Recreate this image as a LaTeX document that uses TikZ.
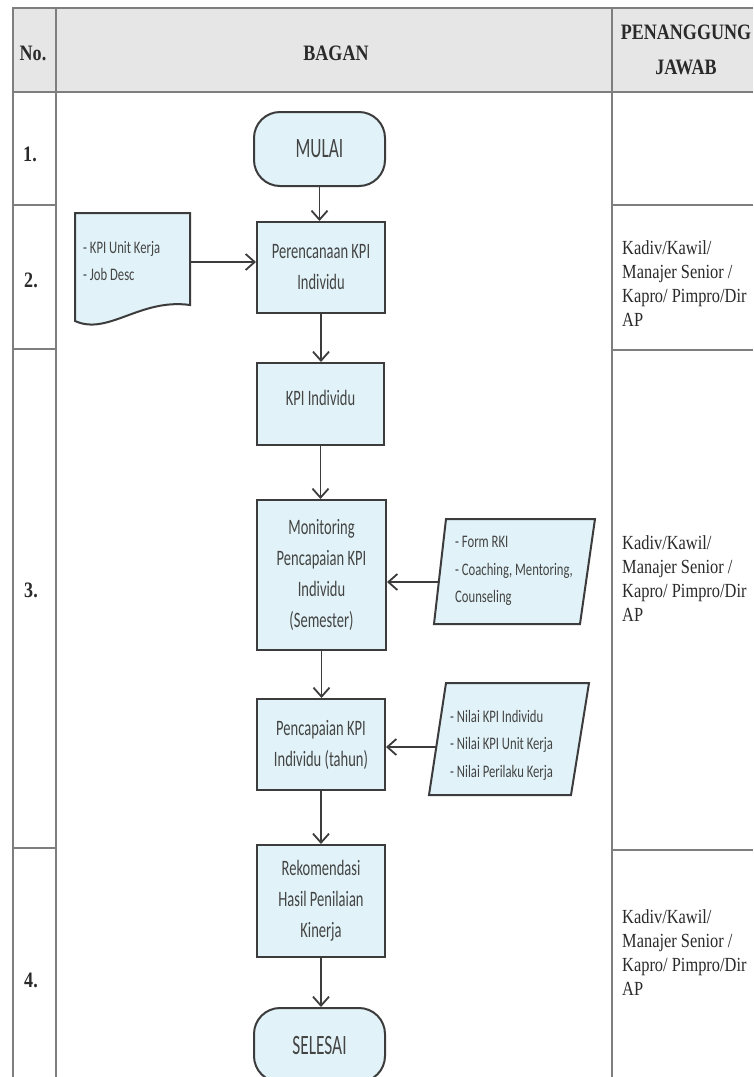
\documentclass[tikz,border=0pt]{standalone}
\usepackage{fontspec}
\setmainfont{Liberation Serif}
\newfontfamily\pjfont{Liberation Serif}[FakeStretch=0.82]
\newfontfamily\cfont{Carlito}[FakeStretch=0.66]
\newfontfamily\lfont{Carlito}[FakeStretch=0.72]
\newfontfamily\tfont{Carlito}[FakeStretch=0.62]
\usetikzlibrary{arrows.meta}
\definecolor{boxfill}{HTML}{E1F3F8}
\definecolor{boxline}{HTML}{3C3C3C}
\definecolor{txt}{HTML}{444444}
\definecolor{tline}{HTML}{7E7E7E}
\definecolor{headfill}{HTML}{E6E6E6}
\definecolor{pjtxt}{HTML}{2A2A2A}
\tikzset{
  proc/.style={draw=boxline, fill=boxfill, line width=2pt, inner sep=0pt, align=center,
    text=txt, font=\cfont\fontsize{22}{31}\selectfont},
  term/.style={proc, rounded corners=26pt, font=\tfont\fontsize{28}{30}\selectfont},
  shapebox/.style={draw=boxline, fill=boxfill, line width=2pt},
  flow/.style={draw=boxline, line width=1.8pt, -{Straight Barb[length=9pt,width=16pt,line width=1.8pt]}},
  grid/.style={draw=tline, line width=1.4pt},
  pj/.style={font=\pjfont\fontsize{20}{24}\selectfont, text=pjtxt, align=left, anchor=north west, inner sep=0pt},
  head/.style={font=\pjfont\bfseries\fontsize{22}{35}\selectfont, text=pjtxt, align=center, inner sep=0pt},
  listtxt/.style={font=\lfont\fontsize{17.6}{27.5}\selectfont, text=txt, align=left, anchor=north west, inner sep=0pt}
}
\begin{document}
\begin{tikzpicture}[x=1pt,y=-1pt]
\useasboundingbox (0,0) rectangle (753,1077);
\clip (0,0) rectangle (753,1077);
\fill[white] (0,0) rectangle (753,1077);
% header
\fill[headfill] (13,8) rectangle (753,92);
\draw[grid] (753,8) -- (13,8) -- (13,1077);
\draw[grid] (56,8) -- (56,1077);
\draw[grid] (612,8) -- (612,1077);
\draw[grid] (13,92) -- (753,92);
\draw[grid] (13,205) -- (56,205);
\draw[grid] (612,205) -- (753,205);
\draw[grid] (13,349) -- (56,349);
\draw[grid] (612,350) -- (753,350);
\draw[grid] (13,848) -- (56,848);
\draw[grid] (612,850) -- (753,850);
\node[head] (hno) at (33,53) {No.};
\node[head] (hbagan) at (336,53) {BAGAN};
\node[head] (hpj) at (686,50) {PENANGGUNG\\JAWAB};
\node[head] (n1) at (30,154) {1.};
\node[head] (n2) at (31,280) {2.};
\node[head] (n3) at (31,590) {3.};
\node[head] (n4) at (31,980) {4.};
% responsibility text
\node[pj] (pj2) at (622,240) {Kadiv/Kawil/\\Manajer Senior /\\Kapro/ Pimpro/Dir\\AP};
\node[pj] (pj3) at (622,535) {Kadiv/Kawil/\\Manajer Senior /\\Kapro/ Pimpro/Dir\\AP};
\node[pj] (pj4) at (622,909) {Kadiv/Kawil/\\Manajer Senior /\\Kapro/ Pimpro/Dir\\AP};
% flow boxes
\node[term, minimum width=131pt, minimum height=74pt] (mulai) at (319.5,149) {MULAI};
\node[proc, minimum width=128pt, minimum height=91pt] (per) at (321,267.5) {Perencanaan KPI\\Individu};
\node[proc, minimum width=127pt, minimum height=82pt] (kpi) at (320.5,404) {\raisebox{12pt}{KPI Individu}};
\node[proc, minimum width=129pt, minimum height=150pt] (mon) at (321.5,575) {Monitoring\\Pencapaian KPI\\Individu\\(Semester)};
\node[proc, minimum width=128pt, minimum height=91pt] (pen) at (321,744.5) {Pencapaian KPI\\Individu (tahun)};
\node[proc, minimum width=128pt, minimum height=112pt] (rek) at (321,901) {Rekomendasi\\Hasil Penilaian\\Kinerja};
\node[term, minimum width=131pt, minimum height=74pt] (sel) at (319.5,1045) {SELESAI};
% document shape
\draw[shapebox] (75,213) -- (190,213) -- (190,305) .. controls (140,298) and (108,336) .. (75,321) -- cycle;
\node[listtxt] (doctxt) at (83,241) {- KPI Unit Kerja\\- Job Desc};
\coordinate (docE) at (190,262);
% parallelograms
\draw[shapebox] (446,519) -- (595,519) -- (580,624) -- (434,624) -- cycle;
\node[listtxt] (p1txt) at (455,536) {- Form RKI\\- Coaching, Mentoring,\\Counseling};
\coordinate (p1W) at (438.8,582);
\draw[shapebox] (446,683) -- (589,683) -- (571,795) -- (429,795) -- cycle;
\node[listtxt] (p2txt) at (450,710) {- Nilai KPI Individu\\- Nilai KPI Unit Kerja\\- Nilai Perilaku Kerja};
\coordinate (p2W) at (436.3,747);
% connectors
\draw[flow] (mulai.south) -- (mulai.south |- per.north);
\draw[flow] (docE) -- (docE -| per.west);
\draw[flow] (per.south) -- (per.south |- kpi.north);
\draw[flow] (kpi.south) -- (kpi.south |- mon.north);
\draw[flow] (p1W) -- (p1W -| mon.east);
\draw[flow] (mon.south) -- (mon.south |- pen.north);
\draw[flow] (p2W) -- (p2W -| pen.east);
\draw[flow] (pen.south) -- (pen.south |- rek.north);
\draw[flow] (rek.south) -- (rek.south |- sel.north);
\end{tikzpicture}
\end{document}
